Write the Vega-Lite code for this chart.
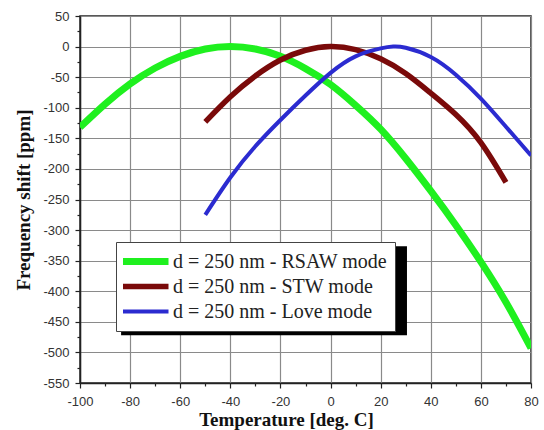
{
  "$schema": "https://vega.github.io/schema/vega-lite/v6.json",
  "width": 451,
  "height": 367,
  "autosize": "none",
  "padding": {"left": 80, "top": 16, "right": 13, "bottom": 47},
  "background": "white",
  "config": {
    "view": {"stroke": "#222", "strokeWidth": 1.5},
    "axis": {
      "labelFont": "Liberation Sans",
      "labelFontSize": 13,
      "labelColor": "#333",
      "labelOverlap": false,
      "labelFlush": false,
      "titleFont": "Liberation Serif",
      "titleFontSize": 19,
      "titleFontWeight": "bold",
      "titleColor": "#111",
      "domainColor": "#222",
      "domainWidth": 1.5,
      "tickColor": "#222",
      "tickWidth": 1.2,
      "gridColor": "#8a8a8a",
      "gridWidth": 1.2
    }
  },
  "resolve": {"axis": {"x": "independent", "y": "independent"}},
  "datasets": {
    "curves": [
      {"T": -100, "f": -132, "mode": "d = 250 nm - RSAW mode"},
      {"T": -90, "f": -94, "mode": "d = 250 nm - RSAW mode"},
      {"T": -80, "f": -61, "mode": "d = 250 nm - RSAW mode"},
      {"T": -70, "f": -35, "mode": "d = 250 nm - RSAW mode"},
      {"T": -60, "f": -16, "mode": "d = 250 nm - RSAW mode"},
      {"T": -50, "f": -4, "mode": "d = 250 nm - RSAW mode"},
      {"T": -40, "f": 0, "mode": "d = 250 nm - RSAW mode"},
      {"T": -30, "f": -4, "mode": "d = 250 nm - RSAW mode"},
      {"T": -20, "f": -16, "mode": "d = 250 nm - RSAW mode"},
      {"T": -10, "f": -36, "mode": "d = 250 nm - RSAW mode"},
      {"T": 0, "f": -62, "mode": "d = 250 nm - RSAW mode"},
      {"T": 10, "f": -96, "mode": "d = 250 nm - RSAW mode"},
      {"T": 20, "f": -135, "mode": "d = 250 nm - RSAW mode"},
      {"T": 30, "f": -183, "mode": "d = 250 nm - RSAW mode"},
      {"T": 40, "f": -236, "mode": "d = 250 nm - RSAW mode"},
      {"T": 50, "f": -292, "mode": "d = 250 nm - RSAW mode"},
      {"T": 60, "f": -352, "mode": "d = 250 nm - RSAW mode"},
      {"T": 70, "f": -418, "mode": "d = 250 nm - RSAW mode"},
      {"T": 80, "f": -493, "mode": "d = 250 nm - RSAW mode"},
      {"T": -50, "f": -123, "mode": "d = 250 nm - STW mode"},
      {"T": -40, "f": -82, "mode": "d = 250 nm - STW mode"},
      {"T": -30, "f": -48, "mode": "d = 250 nm - STW mode"},
      {"T": -20, "f": -22, "mode": "d = 250 nm - STW mode"},
      {"T": -10, "f": -6, "mode": "d = 250 nm - STW mode"},
      {"T": 0, "f": 0, "mode": "d = 250 nm - STW mode"},
      {"T": 10, "f": -5, "mode": "d = 250 nm - STW mode"},
      {"T": 20, "f": -20, "mode": "d = 250 nm - STW mode"},
      {"T": 30, "f": -44, "mode": "d = 250 nm - STW mode"},
      {"T": 40, "f": -76, "mode": "d = 250 nm - STW mode"},
      {"T": 50, "f": -111, "mode": "d = 250 nm - STW mode"},
      {"T": 60, "f": -157, "mode": "d = 250 nm - STW mode"},
      {"T": 70, "f": -222, "mode": "d = 250 nm - STW mode"},
      {"T": -50, "f": -275, "mode": "d = 250 nm - Love mode"},
      {"T": -40, "f": -214, "mode": "d = 250 nm - Love mode"},
      {"T": -30, "f": -163, "mode": "d = 250 nm - Love mode"},
      {"T": -20, "f": -120, "mode": "d = 250 nm - Love mode"},
      {"T": -10, "f": -80, "mode": "d = 250 nm - Love mode"},
      {"T": 0, "f": -43, "mode": "d = 250 nm - Love mode"},
      {"T": 10, "f": -16, "mode": "d = 250 nm - Love mode"},
      {"T": 20, "f": -3, "mode": "d = 250 nm - Love mode"},
      {"T": 25, "f": 0, "mode": "d = 250 nm - Love mode"},
      {"T": 30, "f": -2, "mode": "d = 250 nm - Love mode"},
      {"T": 40, "f": -17, "mode": "d = 250 nm - Love mode"},
      {"T": 50, "f": -46, "mode": "d = 250 nm - Love mode"},
      {"T": 60, "f": -85, "mode": "d = 250 nm - Love mode"},
      {"T": 70, "f": -131, "mode": "d = 250 nm - Love mode"},
      {"T": 80, "f": -178, "mode": "d = 250 nm - Love mode"}
    ]
  },
  "layer": [
    {
      "data": {"values": [{}]},
      "mark": {"type": "rect", "color": "#000"},
      "encoding": {
        "x": {
          "datum": -83.6,
          "type": "quantitative",
          "scale": {"domain": [-100, 80], "nice": false, "zero": false},
          "axis": {
            "orient": "bottom",
            "title": null,
            "values": [-90, -70, -50, -30, -10, 10, 30, 50, 70],
            "labels": false,
            "grid": false,
            "domain": false,
            "tickSize": 3
          }
        },
        "x2": {"datum": 30.5},
        "y": {
          "datum": -326.5,
          "type": "quantitative",
          "scale": {"domain": [-550, 50], "nice": false, "zero": false},
          "axis": {
            "orient": "left",
            "title": null,
            "values": [-525, -475, -425, -375, -325, -275, -225, -175, -125, -75, -25, 25],
            "labels": false,
            "grid": false,
            "domain": false,
            "tickSize": 3
          }
        },
        "y2": {"datum": -472}
      }
    },
    {
      "data": {"name": "curves"},
      "mark": {"type": "line", "interpolate": "natural", "clip": true, "strokeCap": "butt"},
      "encoding": {
        "x": {
          "field": "T",
          "type": "quantitative",
          "axis": {
            "orient": "bottom",
            "title": "Temperature [deg. C]",
            "values": [-100, -80, -60, -40, -20, 0, 20, 40, 60, 80],
            "labelExpr": "'' + datum.value",
            "tickSize": 5,
            "grid": true,
            "labelPadding": 7,
            "titlePadding": 2,
            "titleX": 206
          }
        },
        "y": {
          "field": "f",
          "type": "quantitative",
          "axis": {
            "orient": "left",
            "title": "Frequency shift [ppm]",
            "values": [-550, -500, -450, -400, -350, -300, -250, -200, -150, -100, -50, 0, 50],
            "labelExpr": "'' + datum.value",
            "tickSize": 5,
            "grid": true,
            "labelPadding": 6,
            "titlePadding": 9
          }
        },
        "color": {
          "field": "mode",
          "type": "nominal",
          "scale": {
            "domain": ["d = 250 nm - RSAW mode", "d = 250 nm - STW mode", "d = 250 nm - Love mode"],
            "range": ["#1ff01f", "#7a0a0a", "#2b2bd0"]
          },
          "legend": {
            "title": null,
            "orient": "none",
            "legendX": 36,
            "legendY": 226,
            "fillColor": "white",
            "strokeColor": "#444",
            "padding": 7,
            "labelFont": "Liberation Serif",
            "labelFontSize": 20,
            "labelColor": "#222",
            "labelLimit": 400,
            "labelOffset": 1,
            "symbolOffset": -5,
            "symbolType": "stroke",
            "symbolSize": 2209,
            "clipHeight": 25,
            "rowPadding": 0
          }
        },
        "strokeWidth": {
          "field": "mode",
          "type": "nominal",
          "scale": {
            "domain": ["d = 250 nm - RSAW mode", "d = 250 nm - STW mode", "d = 250 nm - Love mode"],
            "range": [7, 4, 1.5]
          }
        }
      }
    }
  ]
}
